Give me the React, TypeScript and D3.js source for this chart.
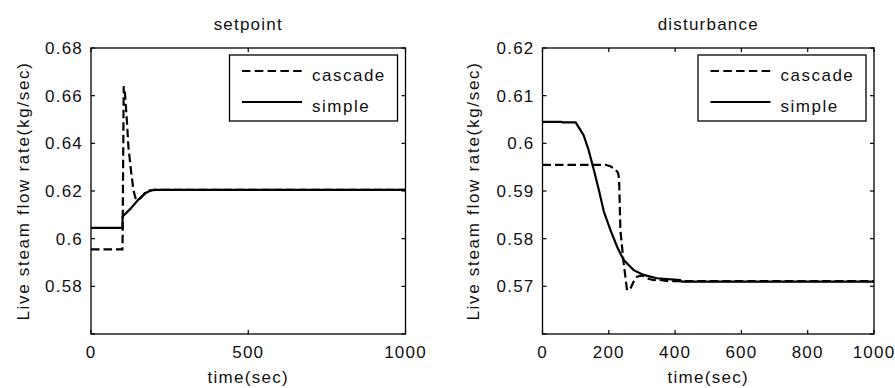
import React from "react";
import * as d3 from "d3";

// ---- Data ----
const setTime = [0, 100, 100.5, 125, 150, 175, 195, 210, 1000];
const setSimple = [0.6045, 0.6045, 0.6093, 0.6125, 0.6163, 0.6193, 0.6204, 0.6205, 0.6205];
const setCascTime = [0, 100, 100.5, 104, 108, 114, 119, 127, 135, 141, 148, 158, 170, 185, 200, 1000];
const setCascade = [0.5955, 0.5955, 0.6, 0.664, 0.661, 0.6497, 0.6385, 0.6287, 0.6203, 0.6172, 0.6162, 0.617, 0.619, 0.6202, 0.6205, 0.6205];

const distTime = [0, 58, 60, 100, 108, 124, 139, 155, 170, 185, 205, 225, 245, 275, 305, 345, 415, 420, 1000];
const distSimple = [0.6045, 0.6045, 0.6044, 0.6044, 0.6035, 0.6017, 0.5986, 0.5944, 0.5902, 0.5857, 0.5818, 0.5783, 0.5755, 0.5734, 0.5724, 0.5717, 0.5713, 0.571, 0.571];
const distCascTime = [0, 190, 205, 220, 228, 231, 235, 245, 255, 265, 275, 285, 300, 320, 335, 350, 380, 1000];
const distCascade = [0.5955, 0.5955, 0.5952, 0.5945, 0.5938, 0.5925, 0.5818, 0.5748, 0.5692, 0.5695, 0.571, 0.572, 0.5723, 0.5716, 0.5713, 0.5714, 0.5711, 0.5711];

const leftXTicks = [0, 500, 1000];
const leftYTicks = [0.56, 0.58, 0.6, 0.62, 0.64, 0.66, 0.68];
const leftYLabels = ["", "0.58", "0.6", "0.62", "0.64", "0.66", "0.68"];
const rightXTicks = [0, 200, 400, 600, 800, 1000];
const rightYTicks = [0.56, 0.57, 0.58, 0.59, 0.6, 0.61, 0.62];
const rightYLabels = ["", "0.57", "0.58", "0.59", "0.6", "0.61", "0.62"];

const titles = ["setpoint", "disturbance"];
const seriesNames = ["cascade", "simple"];
const xLabel = "time(sec)";
const yLabel = "Live steam flow rate(kg/sec)";

const FONT = "'Liberation Sans', Arial, sans-serif";
const FS = 17;

type PanelProps = {
  x0: number; x1: number; y0: number; y1: number;
  yDomain: [number, number];
  xTicks: number[]; yTicks: number[]; yLabels: string[];
  title: string;
  simpleT: number[]; simpleV: number[];
  cascT: number[]; cascV: number[];
  legendX: number; yLabelX: number;
};

function Panel(p: PanelProps) {
  const x = d3.scaleLinear().domain([0, 1000]).range([p.x0, p.x1]);
  const y = d3.scaleLinear().domain(p.yDomain).range([p.y1, p.y0]);
  const line = d3.line<[number, number]>().x(d => x(d[0])).y(d => y(d[1]));
  const simple = line(p.simpleT.map((t, i) => [t, p.simpleV[i]]));
  const casc = line(p.cascT.map((t, i) => [t, p.cascV[i]]));
  const tl = 4;
  const cx = (p.x0 + p.x1) / 2;
  const cy = (p.y0 + p.y1) / 2;
  const lx = p.legendX;
  return (
    <g fontFamily={FONT} fontSize={FS} fill="#111">
      <text x={cx} y={30} textAnchor="middle" letterSpacing={1.2}>{p.title}</text>
      <path d={casc || ""} fill="none" stroke="#000" strokeWidth={2.2} strokeDasharray="8.5,4" />
      <path d={simple || ""} fill="none" stroke="#000" strokeWidth={2.2} />
      <rect x={p.x0} y={p.y0} width={p.x1 - p.x0} height={p.y1 - p.y0} fill="none" stroke="#000" strokeWidth={1.3} />
      {p.xTicks.map(t => (
        <g key={"x" + t}>
          <line x1={x(t)} x2={x(t)} y1={p.y1} y2={p.y1 - tl} stroke="#000" strokeWidth={1.2} />
          <line x1={x(t)} x2={x(t)} y1={p.y0} y2={p.y0 + tl} stroke="#000" strokeWidth={1.2} />
          <text x={x(t)} y={358} textAnchor="middle" letterSpacing={1.2}>{String(t)}</text>
        </g>
      ))}
      {p.yTicks.map((t, i) => (
        <g key={"y" + t}>
          <line x1={p.x0} x2={p.x0 + tl} y1={y(t)} y2={y(t)} stroke="#000" strokeWidth={1.2} />
          <line x1={p.x1} x2={p.x1 - tl} y1={y(t)} y2={y(t)} stroke="#000" strokeWidth={1.2} />
          <text x={p.x0 - 8} y={y(t)} dy="0.36em" textAnchor="end" letterSpacing={1.2}>{p.yLabels[i]}</text>
        </g>
      ))}
      <text x={cx} y={383} textAnchor="middle" letterSpacing={1.3}>{xLabel}</text>
      <text transform={`translate(${p.yLabelX},${cy}) rotate(-90)`} textAnchor="middle" dy="0.36em" letterSpacing={1.7}>{yLabel}</text>
      <rect x={lx} y={55} width={168} height={66} fill="#fff" stroke="#000" strokeWidth={1.3} />
      <line x1={lx + 12.5} x2={lx + 72.5} y1={71} y2={71} stroke="#000" strokeWidth={2.2} strokeDasharray="8.5,4.3" />
      <line x1={lx + 12.5} x2={lx + 72.5} y1={102} y2={102} stroke="#000" strokeWidth={2.2} />
      <text x={lx + 82.5} y={81} letterSpacing={1.5}>{seriesNames[0]}</text>
      <text x={lx + 82.5} y={112} letterSpacing={1.5}>{seriesNames[1]}</text>
    </g>
  );
}

export default function App() {
  return (
    <svg width={895} height={388} style={{ position: "absolute", left: 0, top: 0, background: "#fff" }}>
      <rect width={895} height={388} fill="#fff" />
      <Panel x0={91} x1={405.5} y0={48} y1={334} yDomain={[0.56, 0.68]}
        xTicks={leftXTicks} yTicks={leftYTicks} yLabels={leftYLabels} title={titles[0]}
        simpleT={setTime} simpleV={setSimple} cascT={setCascTime} cascV={setCascade}
        legendX={229.5} yLabelX={22.5} />
      <Panel x0={542.5} x1={874} y0={48} y1={334} yDomain={[0.56, 0.62]}
        xTicks={rightXTicks} yTicks={rightYTicks} yLabels={rightYLabels} title={titles[1]}
        simpleT={distTime} simpleV={distSimple} cascT={distCascTime} cascV={distCascade}
        legendX={698} yLabelX={472.5} />
    </svg>
  );
}
